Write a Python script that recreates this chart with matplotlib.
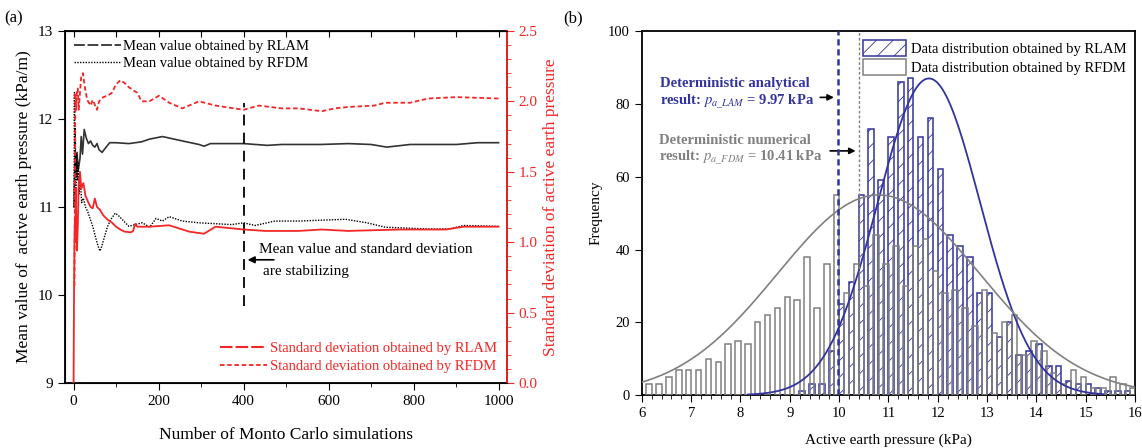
import numpy as np
import matplotlib
matplotlib.use("Agg")
import matplotlib.pyplot as plt
from matplotlib.lines import Line2D
from matplotlib.patches import Patch
from matplotlib.ticker import MultipleLocator, FormatStrFormatter

plt.rcParams['font.family'] = ['Liberation Serif', 'DejaVu Serif']
plt.rcParams['mathtext.fontset'] = 'stix'
plt.rcParams['hatch.linewidth'] = 0.6

# ── (a) convergence data ─────────────────────────────────────────────────────
sims_mean_rlam = [1, 3, 5, 8, 11, 15, 18, 21, 25, 30, 35, 40, 45, 50, 55, 60, 67, 75, 85, 100,
                  130, 160, 178, 209, 256, 295, 307, 322, 400, 456, 490, 582, 646, 700, 737,
                  792, 901, 951, 1000]
mean_rlam = [11.0, 11.55, 11.35, 11.62, 11.42, 11.55, 11.8, 11.6, 11.88, 11.78, 11.72, 11.75,
             11.7, 11.68, 11.72, 11.65, 11.62, 11.67, 11.73, 11.73, 11.72, 11.74, 11.77, 11.8,
             11.75, 11.71, 11.69, 11.72, 11.72, 11.7, 11.71, 11.71, 11.72, 11.71, 11.68, 11.71,
             11.71, 11.73, 11.73]

sims_mean_rfdm = [1, 2, 3, 4, 5, 7, 9, 11, 13, 16, 19, 23, 28, 33, 38, 45, 52, 58, 62, 66, 72,
                  80, 88, 98, 106, 116, 130, 145, 162, 179, 194, 209, 225, 256, 295, 334, 372,
                  400, 427, 474, 529, 584, 640, 691, 733, 834, 884, 918, 1000]
mean_rfdm = [11.0, 12.3, 11.4, 11.9, 11.2, 11.6, 11.3, 11.5, 11.15, 11.3, 11.05, 11.1, 11.0,
             10.95, 10.88, 10.78, 10.65, 10.55, 10.5, 10.55, 10.65, 10.78, 10.86, 10.93, 10.9,
             10.85, 10.78, 10.8, 10.82, 10.77, 10.87, 10.84, 10.89, 10.84, 10.82, 10.81, 10.8,
             10.82, 10.79, 10.84, 10.84, 10.85, 10.86, 10.82, 10.77, 10.75, 10.75, 10.79, 10.78]

sims_std_rlam = [0, 1, 2, 3, 4, 5, 6, 8, 10, 12, 15, 18, 23, 28, 35, 40, 45, 50, 55, 62, 70, 80,
                 90, 100, 110, 120, 135, 140, 145, 150, 179, 225, 272, 307, 334, 400, 451, 529,
                 584, 646, 767, 876, 918, 1000]
std_rlam = [0.0, 0.62, 1.0, 1.16, 1.0, 1.38, 1.19, 0.94, 1.13, 1.42, 1.5, 1.38, 1.42, 1.33,
            1.28, 1.25, 1.24, 1.31, 1.25, 1.23, 1.19, 1.16, 1.14, 1.11, 1.09, 1.075, 1.07, 1.08,
            1.13, 1.11, 1.11, 1.12, 1.075, 1.06, 1.11, 1.09, 1.08, 1.08, 1.09, 1.08, 1.09, 1.09,
            1.11, 1.11]

sims_std_rfdm = [2, 3, 4, 6, 8, 10, 12, 15, 18, 22, 27, 32, 40, 45, 55, 60, 70, 80, 90, 100,
                 110, 120, 130, 150, 160, 178, 201, 225, 256, 295, 334, 400, 436, 490, 529, 584,
                 615, 646, 708, 733, 792, 834, 901, 1000]
std_rfdm = [0.69, 1.25, 2.06, 1.94, 2.09, 2.09, 1.94, 2.06, 2.18, 2.2, 2.09, 2.01, 1.97, 2.01,
            1.94, 2.0, 2.03, 2.04, 2.06, 2.12, 2.15, 2.13, 2.1, 2.06, 2.0, 2.0, 2.04, 1.99, 1.95,
            2.0, 1.97, 1.94, 1.97, 1.95, 1.95, 1.93, 1.95, 1.96, 1.97, 1.99, 1.99, 2.02, 2.03,
            2.02]

# ── (b) histogram data (bin width 0.2 kPa) ───────────────────────────────────
fdm_centers = [6.15, 6.35, 6.55, 6.75, 6.95, 7.15, 7.35, 7.55, 7.75, 7.95, 8.15, 8.35, 8.55,
               8.75, 8.95, 9.15, 9.35, 9.55, 9.75, 9.95, 10.15, 10.35, 10.55, 10.75, 10.95,
               11.15, 11.35, 11.55, 11.75, 11.95, 12.15, 12.35, 12.55, 12.75, 12.95, 13.15,
               13.35, 13.55, 13.75, 13.95, 14.15, 14.35, 14.55, 14.75, 14.95, 15.15, 15.35,
               15.55, 15.75, 15.95]
fdm_counts = [3, 3, 5, 7, 7, 7, 10, 9, 14, 15, 14, 20, 22, 24, 27, 26, 38, 24, 36, 55,
              28, 36, 30, 44, 36, 41, 30, 41, 43, 34, 28, 29, 24, 19, 29, 17, 20, 22, 11,
              15, 12, 6, 3, 7, 5, 2, 2, 5, 3, 2]

lam_centers = [9.25, 9.45, 9.65, 9.85, 10.05, 10.25, 10.45, 10.65, 10.85, 11.05, 11.25, 11.45,
               11.65, 11.85, 12.05, 12.25, 12.45, 12.65, 12.85, 13.05, 13.25, 13.45, 13.65,
               13.85, 14.05, 14.25, 14.45, 14.65, 14.85, 15.05, 15.25, 15.45, 15.65, 15.85]
lam_counts = [1, 3, 3, 12, 25, 31, 55, 73, 59, 71, 86, 87, 71, 76, 62, 44, 41, 38, 28, 28,
              16, 20, 11, 12, 14, 8, 8, 4, 3, 3, 2, 1, 1, 1]

# normal-fit curves: (mean, sd, peak height, x-range)
lam_fit = (11.82, 1.04, 87.0, 8.15, 15.35)
fdm_fit = (10.8, 2.05, 55.0, 6.0, 16.0)

p_lam = 9.97
p_fdm = 10.41

BLUE = "#33339F"
GRAY = "#808080"
RED = "#F52525"
DARK = "#333333"

fig = plt.figure(figsize=(11.42, 4.48), dpi=100)

# ── Panel (a) ───────────────────────────────────────────────────────────────
ax = fig.add_axes([0.057, 0.145, 0.387, 0.786])
ax.plot(sims_mean_rlam, mean_rlam, color=DARK, lw=1.2)
ax.plot(sims_mean_rfdm, mean_rfdm, color="black", lw=1.0, ls=(0, (1, 1)))
ax.set_xlim(-20, 1020)
ax.set_ylim(9, 13)
ax.xaxis.set_major_locator(MultipleLocator(200))
ax.xaxis.set_minor_locator(MultipleLocator(100))
ax.yaxis.set_major_locator(MultipleLocator(1))
ax.tick_params(axis="both", which="both", direction="out", labelsize=11)
ax.tick_params(axis="x", which="major", length=5)
ax.tick_params(axis="x", which="minor", length=3)
ax.tick_params(axis="y", length=5)
for sp in ax.spines.values():
    sp.set_linewidth(1.3)
top = ax.secondary_xaxis("top")
top.xaxis.set_major_locator(MultipleLocator(100))
top.tick_params(direction="in", length=4, labeltop=False)
ax.set_xlabel("Number of Monto Carlo simulations", fontsize=12.5, labelpad=14)
ax.set_ylabel("Mean value of  active earth pressure (kPa/m)", fontsize=12.5)

ax2 = ax.twinx()
ax2.plot(sims_std_rlam, std_rlam, color=RED, lw=1.3)
ax2.plot(sims_std_rfdm, std_rfdm, color=RED, lw=1.3, ls=(0, (2.5, 1.5)))
ax2.set_ylim(0, 2.5)
ax2.yaxis.set_major_locator(MultipleLocator(0.5))
ax2.yaxis.set_minor_locator(MultipleLocator(0.1))
ax2.yaxis.set_major_formatter(FormatStrFormatter("%.1f"))
ax2.tick_params(axis="y", which="both", direction="out", colors=RED, labelsize=11)
ax2.tick_params(axis="y", which="major", length=5)
ax2.tick_params(axis="y", which="minor", length=3)
ax2.spines["right"].set_color(RED)
ax2.spines["right"].set_linewidth(1.3)
ax2.set_ylabel("Standard deviation of active earth pressure", color=RED, fontsize=12.5)

# stabilizing marker
stab_x = 400
ax.plot([stab_x, stab_x], [9.88, 12.18], color="black", lw=1.3, ls=(0, (6, 4)))
ax.annotate("", xy=(stab_x + 3, 10.4), xytext=(478, 10.4),
            arrowprops=dict(arrowstyle="-|>", color="black", lw=1.2, mutation_scale=10))
ax.text(437, 10.52, "Mean value and standard deviation", fontsize=11, va="center")
ax.text(446, 10.27, "are stabilizing", fontsize=11, va="center")

h_mean = [Line2D([], [], color=DARK, lw=1.3, ls=(0, (6, 1.5))),
          Line2D([], [], color="black", lw=1.0, ls=(0, (1, 1)))]
ax.legend(h_mean, ["Mean value obtained by RLAM", "Mean value obtained by RFDM"],
          loc="upper left", frameon=False, fontsize=10.5, handlelength=3.2,
          handletextpad=0.2, borderaxespad=0.2, labelspacing=0.3)
h_std = [Line2D([], [], color=RED, lw=1.5, ls=(0, (6, 1.5))),
         Line2D([], [], color=RED, lw=1.3, ls=(0, (2.5, 1.5)))]
ax2.legend(h_std, ["Standard deviation obtained by RLAM", "Standard deviation obtained by RFDM"],
           loc="lower right", frameon=False, fontsize=10.5, handlelength=3.2,
           handletextpad=0.2, borderaxespad=0.3, labelspacing=0.3, labelcolor=RED)

fig.text(0.004, 0.95, "(a)", fontsize=12)

# ── Panel (b) ───────────────────────────────────────────────────────────────
bx = fig.add_axes([0.562, 0.118, 0.432, 0.8125])
bx.bar(lam_centers, lam_counts, width=0.11, color="white", edgecolor=BLUE, hatch="//",
       linewidth=1.1, zorder=2)
bx.bar(fdm_centers, fdm_counts, width=0.11, color="none", edgecolor=GRAY, linewidth=1.1,
       zorder=3)

mu, sd, pk, x0, x1 = lam_fit
xs = np.linspace(x0, x1, 300)
bx.plot(xs, pk * np.exp(-(xs - mu) ** 2 / (2 * sd ** 2)), color=BLUE, lw=1.3, zorder=4)
mu, sd, pk, x0, x1 = fdm_fit
xs = np.linspace(x0, x1, 300)
bx.plot(xs, pk * np.exp(-(xs - mu) ** 2 / (2 * sd ** 2)), color=GRAY, lw=1.2, zorder=4)

bx.axvline(p_lam, color=BLUE, lw=1.8, ls=(0, (2.5, 1.5)), zorder=5)
bx.axvline(p_fdm, color=GRAY, lw=1.0, ls=(0, (2, 1.5)), zorder=5)

bx.set_xlim(6, 16)
bx.set_ylim(0, 100)
bx.xaxis.set_major_locator(MultipleLocator(1))
bx.xaxis.set_minor_locator(MultipleLocator(0.2))
bx.yaxis.set_major_locator(MultipleLocator(20))
bx.tick_params(axis="both", which="both", direction="out", labelsize=10.5)
bx.tick_params(axis="x", which="major", length=5)
bx.tick_params(axis="x", which="minor", length=3)
bx.tick_params(axis="y", length=5)
for sp in bx.spines.values():
    sp.set_linewidth(1.3)
bx.set_xlabel("Active earth pressure (kPa)", fontsize=11, labelpad=10)
bx.set_ylabel("Frequency", fontsize=11)

bx.text(6.37, 85.5, "Deterministic analytical", color=BLUE, fontweight="bold",
        fontsize=10.5, va="center")
bx.text(6.37, 80.7, r"result: $p_{a\_LAM}$ = 9.97 kPa", color=BLUE, fontweight="bold",
        fontsize=10.5, va="center")
bx.annotate("", xy=(p_lam - 0.02, 81.8), xytext=(9.56, 81.8),
            arrowprops=dict(arrowstyle="-|>", color="black", lw=1.2, mutation_scale=9))
bx.text(6.34, 70, "Deterministic numerical", color=GRAY, fontweight="bold",
        fontsize=10.5, va="center")
bx.text(6.34, 65.1, r"result: $p_{a\_FDM}$ = 10.41 kPa", color=GRAY, fontweight="bold",
        fontsize=10.5, va="center")
bx.annotate("", xy=(p_fdm - 0.02, 67.1), xytext=(9.76, 67.1),
            arrowprops=dict(arrowstyle="-|>", color="black", lw=1.2, mutation_scale=9))

h_hist = [Patch(facecolor="white", edgecolor=BLUE, hatch="//", linewidth=1.1),
          Patch(facecolor="white", edgecolor=GRAY, linewidth=1.1)]
bx.legend(h_hist, ["Data distribution obtained by RLAM", "Data distribution obtained by RFDM"],
          loc="upper right", frameon=False, fontsize=10.5, handlelength=3.0,
          handleheight=1.3, handletextpad=0.3, borderaxespad=0.2, labelspacing=0.2)

fig.text(0.493, 0.95, "(b)", fontsize=12)

fig.savefig("out.png", dpi=100)
